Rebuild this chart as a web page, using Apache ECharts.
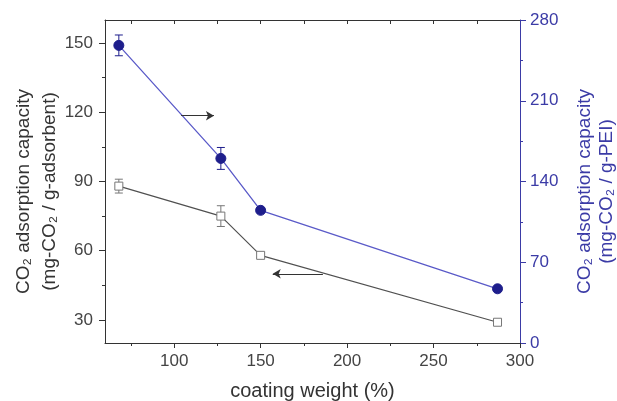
<!DOCTYPE html>
<html>
<head>
<meta charset="utf-8">
<script src="https://cdn.jsdelivr.net/npm/echarts@6/dist/echarts.min.js"></script>
<style>
  html, body { margin: 0; padding: 0; background: #fff; }
  #main { width: 617px; height: 401px; }
</style>
</head>
<body>
<div id="main"></div>
<script>
// coating weight (%)
var coating = [68, 127, 150, 287];
// mg-CO2 / g-adsorbent (left axis)
var perSorbent = [88, 75, 58, 29];
var perSorbentErr = [3, 4.5, 1, 0.5];
// mg-CO2 / g-PEI (right axis)
var perPEI = [258, 160, 115, 47];
var perPEIErr = [9, 9.5, 2, 1];

var xTicks = [100, 150, 200, 250, 300];
var xMinor = [75, 125, 175, 225, 275];
var xTop = [75, 100, 125, 150, 175, 200, 225, 250, 275];
var leftTicks = [30, 60, 90, 120, 150];
var leftMinor = [45, 75, 105, 135];

var FONT = 'Liberation Sans, Arial, Helvetica, sans-serif';
var BLUE_AXIS = '#3b3ba6';
var BLUE_LINE = '#5a5ac8';
var BLUE_DOT = '#1e1e8c';
var GRAY = '#505050';

function pairs(xs, ys) {
  return xs.map(function (x, i) { return [x, ys[i]]; });
}
function triples(xs, ys, es) {
  return xs.map(function (x, i) { return [x, ys[i], es[i]]; });
}

var errBars = function (color) {
  return function (params, api) {
    var x = api.value(0), y = api.value(1), e = api.value(2);
    var hi = api.coord([x, y + e]);
    var lo = api.coord([x, y - e]);
    var w = 4;
    var st = { stroke: color, lineWidth: 1 };
    return {
      type: 'group',
      children: [
        { type: 'line', shape: { x1: hi[0], y1: hi[1], x2: lo[0], y2: lo[1] }, style: st },
        { type: 'line', shape: { x1: hi[0] - w, y1: hi[1], x2: hi[0] + w, y2: hi[1] }, style: st },
        { type: 'line', shape: { x1: lo[0] - w, y1: lo[1], x2: lo[0] + w, y2: lo[1] }, style: st }
      ]
    };
  };
};

var myChart = echarts.init(document.getElementById('main'));

var option = {
  animation: false,
  backgroundColor: '#fff',
  textStyle: { fontFamily: FONT },
  grid: { left: 105, right: 97, top: 20, bottom: 58, outerBoundsMode: 'none', containLabel: false },
  xAxis: [
    {
      type: 'value', position: 'bottom', min: 60, max: 300,
      name: 'coating weight (%)', nameLocation: 'middle', nameGap: 38, nameMoveOverlap: false,
      nameTextStyle: { fontSize: 20, color: '#333', fontFamily: FONT },
      axisLine: { show: true, lineStyle: { color: '#333', width: 1 } },
      axisTick: { show: true, customValues: xTicks, length: 5, lineStyle: { color: '#333' } },
      axisLabel: { customValues: xTicks, fontSize: 17, color: '#444', margin: 10, fontFamily: FONT },
      splitLine: { show: false }
    },
    {
      type: 'value', position: 'bottom', min: 60, max: 300,
      axisLine: { show: false },
      axisTick: { show: true, customValues: xMinor, length: 3, lineStyle: { color: '#333' } },
      axisLabel: { show: false },
      splitLine: { show: false }
    },
    {
      type: 'value', position: 'top', min: 60, max: 300,
      axisLine: { show: true, lineStyle: { color: '#333', width: 1 } },
      axisTick: { show: true, inside: true, customValues: xTop, length: 4, lineStyle: { color: '#333' } },
      axisLabel: { show: false },
      splitLine: { show: false }
    }
  ],
  yAxis: [
    {
      type: 'value', position: 'left', min: 20, max: 160,
      name: 'CO\u2082 adsorption capacity\n(mg-CO\u2082 / g-adsorbent)',
      nameLocation: 'middle', nameRotate: 90, nameGap: 42, nameMoveOverlap: false,
      nameTextStyle: { fontSize: 19, color: '#333', lineHeight: 26, padding: [0, 20, 0, 0], fontFamily: FONT },
      axisLine: { show: true, lineStyle: { color: '#333', width: 1 } },
      axisTick: { show: true, customValues: leftTicks, length: 6, lineStyle: { color: '#333' } },
      axisLabel: { customValues: leftTicks, fontSize: 17, color: '#444', margin: 12, fontFamily: FONT },
      splitLine: { show: false }
    },
    {
      type: 'value', position: 'left', min: 20, max: 160,
      axisLine: { show: false },
      axisTick: { show: true, customValues: leftMinor, length: 3, lineStyle: { color: '#333' } },
      axisLabel: { show: false },
      splitLine: { show: false }
    },
    {
      type: 'value', position: 'right', min: 0, max: 280, interval: 70,
      name: 'CO\u2082 adsorption capacity\n(mg-CO\u2082 / g-PEI)',
      nameLocation: 'middle', nameRotate: 90, nameGap: 54, nameMoveOverlap: false,
      nameTextStyle: { fontSize: 19, color: BLUE_AXIS, lineHeight: 22, padding: [0, 20, 0, 0], fontFamily: FONT },
      axisLine: { show: true, lineStyle: { color: BLUE_AXIS, width: 1 } },
      axisTick: { show: true, length: 6, lineStyle: { color: BLUE_AXIS } },
      minorTick: { show: true, splitNumber: 2, length: 3, lineStyle: { color: BLUE_AXIS } },
      axisLabel: { fontSize: 17, color: BLUE_AXIS, margin: 10, fontFamily: FONT },
      splitLine: { show: false }
    }
  ],
  series: [
    {
      name: 'per g-adsorbent', type: 'line', xAxisIndex: 0, yAxisIndex: 0,
      data: pairs(coating, perSorbent),
      symbol: 'rect', symbolSize: 8,
      itemStyle: { color: '#fff', borderColor: '#777', borderWidth: 1 },
      lineStyle: { color: GRAY, width: 1.2 },
      z: 3,
      markLine: {
        silent: true, symbol: ['none', 'arrow'], symbolSize: [7, 8],
        label: { show: false },
        lineStyle: { color: '#333', width: 1, type: 'solid' },
        data: [
          [{ coord: [104, 118.5] }, { coord: [123, 118.5] }],
          [{ coord: [186, 50] }, { coord: [157, 50] }]
        ]
      }
    },
    {
      name: 'per g-PEI', type: 'line', xAxisIndex: 0, yAxisIndex: 2,
      data: pairs(coating, perPEI),
      symbol: 'circle', symbolSize: 10,
      itemStyle: { color: BLUE_DOT, borderColor: BLUE_DOT },
      lineStyle: { color: BLUE_LINE, width: 1.3 },
      z: 4
    },
    {
      type: 'custom', xAxisIndex: 0, yAxisIndex: 0,
      renderItem: errBars('#777'),
      data: triples(coating, perSorbent, perSorbentErr),
      z: 2
    },
    {
      type: 'custom', xAxisIndex: 0, yAxisIndex: 2,
      renderItem: errBars(BLUE_DOT),
      data: triples(coating, perPEI, perPEIErr),
      z: 2
    }
  ]
};

myChart.setOption(option);
</script>
</body>
</html>
